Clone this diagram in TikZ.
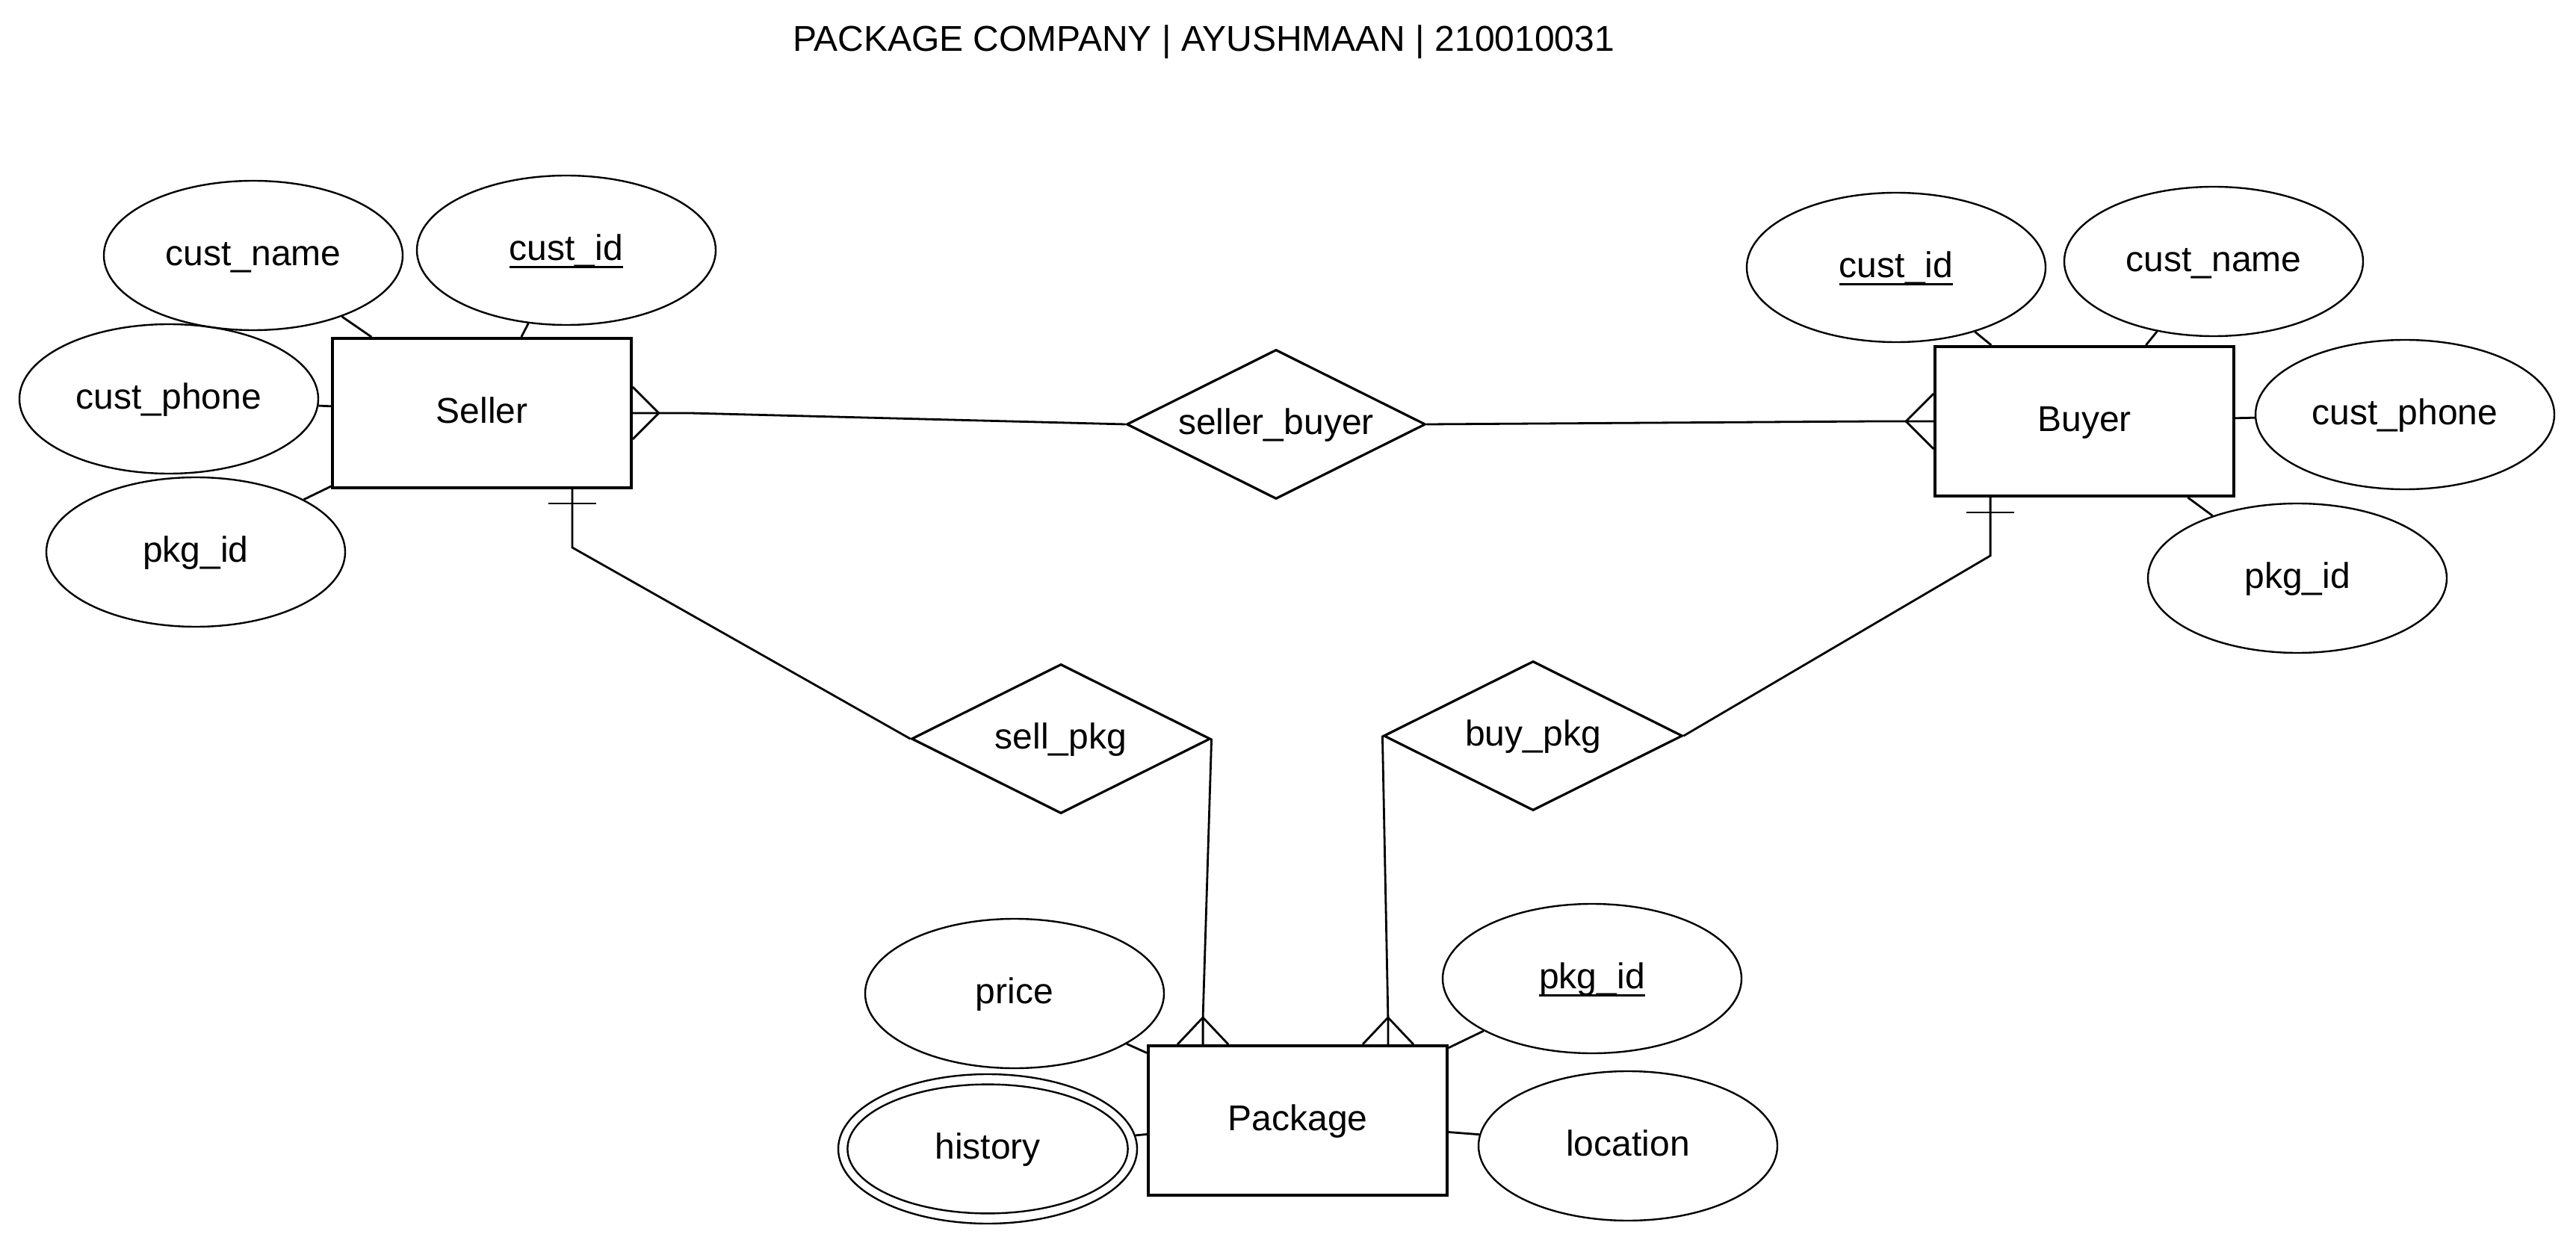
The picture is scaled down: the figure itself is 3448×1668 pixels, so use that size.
\documentclass[tikz,border=0pt]{standalone}
\usepackage{fontspec}
\setmainfont{Liberation Sans}
\usetikzlibrary{shapes.geometric,calc}
\newlength\ulklen
\newcommand\ulk[1]{\settowidth\ulklen{#1}\rlap{\smash{\rule[-2.6pt]{\ulklen}{0.7pt}}}#1}
\begin{document}
\begin{tikzpicture}[x=0.25pt,y=-0.25pt,
  lbl/.style={font=\fontsize{12}{14}\selectfont, text height=9.5pt, text depth=2.8pt, inner sep=0pt},
  ent/.style={lbl, draw, line width=0.95pt, minimum width=100pt, minimum height=50pt},
  attr/.style={lbl, ellipse, draw, line width=0.6pt, minimum width=100pt, minimum height=50pt},
  rel/.style={lbl, diamond, draw, line width=0.8pt, aspect=2, minimum width=100pt, minimum height=50pt},
  conn/.style={line width=0.7pt}]
\useasboundingbox (0,0) rectangle (3448,1668);
\node[lbl] (title) at (1611,55) {PACKAGE COMPANY | AYUSHMAAN | 210010031};
% entities
\node[ent] (Seller) at (645,553) {Seller};
\node[ent] (Buyer) at (2790,564) {Buyer};
\node[ent] (Package) at (1737,1500) {Package};
% relationships
\node[rel] (sb) at (1708,568) {seller\_buyer};
\node[rel] (sp) at (1420,989) {sell\_pkg};
\node[rel] (bp) at (2052,985) {buy\_pkg};
% seller attributes
\node[attr] (sname) at (339,342) {cust\_name};
\node[attr] (sid) at (758,335) {\ulk{cust\_id}};
\node[attr] (sphone) at (226,534) {cust\_phone};
\node[attr] (spkg) at (262,739) {pkg\_id};
% buyer attributes
\node[attr] (bid) at (2538,358) {\ulk{cust\_id}};
\node[attr] (bname) at (2963,350) {cust\_name};
\node[attr] (bphone) at (3219,555) {cust\_phone};
\node[attr] (bpkg) at (3075,774) {pkg\_id};
% package attributes
\node[attr] (price) at (1358,1330) {price};
\node[attr] (pid) at (2131,1310) {\ulk{pkg\_id}};
\node[attr] (hist) at (1322,1538) {history};
\draw[line width=0.6pt] (hist.center) ellipse [x radius=46.9pt, y radius=21.6pt];
\node[attr] (loc) at (2179,1534) {location};
% attribute connectors
\foreach \a in {sname,sid,sphone,spkg} \draw[conn] (\a) -- (Seller);
\foreach \a in {bid,bname,bphone,bpkg} \draw[conn] (\a) -- (Buyer);
\foreach \a in {price,pid,hist,loc} \draw[conn] (\a) -- (Package);
% Seller -- seller_buyer -- Buyer
\draw[conn] (Seller.east) -- ++(77,0) -- (sb.west);
\draw[conn] ($(Seller.east)+(0,-35)$) -- ($(Seller.east)+(35,0)$) -- ($(Seller.east)+(0,35)$);
\draw[conn] (sb.east) -- ($(Buyer.west)+(-77,0)$) -- (Buyer.west);
\draw[conn] ($(Buyer.west)+(0,-37)$) -- ($(Buyer.west)+(-37,0)$) -- ($(Buyer.west)+(0,37)$);
% Seller -- sell_pkg
\coordinate (sA) at ($(Seller.south east)+(-81,0)$);
\draw[conn] (sA) -- ++(0,78) -- (sp.west);
\draw[conn] ($(sA)+(-32,19)$) -- ++(64,0);
% Buyer -- buy_pkg
\coordinate (bA) at ($(Buyer.south west)+(76,0)$);
\draw[conn] (bA) -- ++(0,78) -- (bp.east);
\draw[conn] ($(bA)+(-32,20)$) -- ++(64,0);
% sell_pkg -- Package
\coordinate (pA) at ($(Package.north west)+(75,0)$);
\draw[conn] (sp.east) -- ($(pA)+(0,-36)$) -- (pA);
\draw[conn] ($(pA)+(-34,0)$) -- ($(pA)+(0,-36)$) -- ($(pA)+(34,0)$);
% buy_pkg -- Package
\coordinate (pB) at ($(Package.north east)+(-81,0)$);
\draw[conn] (bp.west) -- ($(pB)+(0,-36)$) -- (pB);
\draw[conn] ($(pB)+(-34,0)$) -- ($(pB)+(0,-36)$) -- ($(pB)+(34,0)$);
\end{tikzpicture}
\end{document}
